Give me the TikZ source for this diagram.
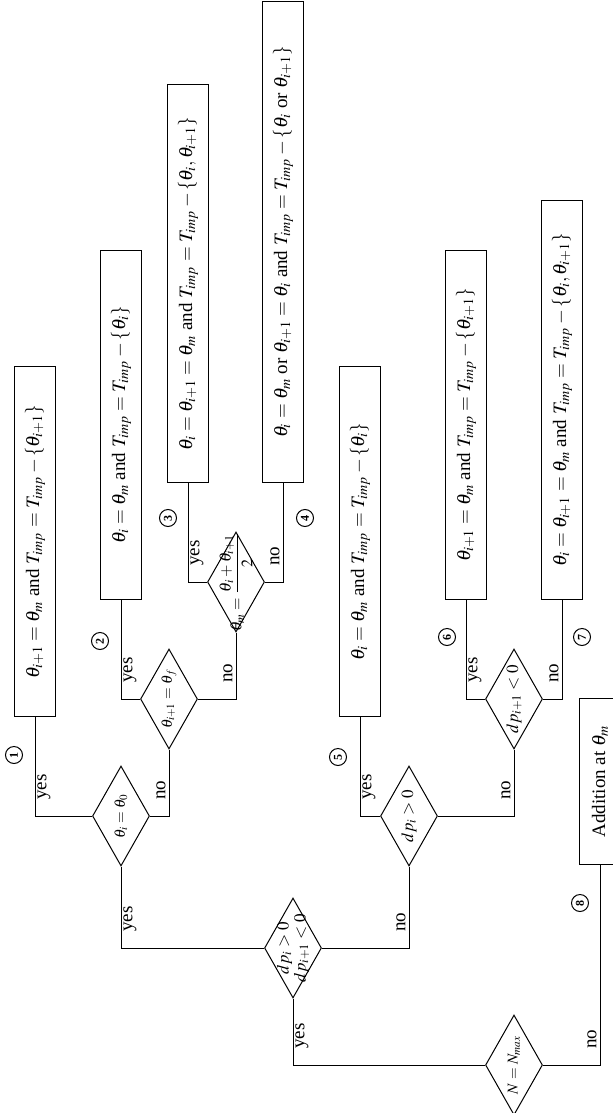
\documentclass[tikz,border=0pt]{standalone}
\usepackage{mathptmx}
\usepackage{fontspec}
\setmainfont{Liberation Serif}
\usetikzlibrary{positioning, shapes.geometric}

\begin{document}
\begin{tikzpicture}[
    x=0.5pt, y=-0.5pt,
    font=\fontsize{9.5}{11.5}\selectfont,
    result/.style={
        draw, line width=0.5pt, rotate=90, anchor=west,
        minimum height=20.5pt, inner sep=0pt,
    },
    query/.style={
        draw, diamond, line width=0.5pt, rotate=90,
        minimum width=50pt, minimum height=28.5pt, inner sep=0pt,
    },
    qtext/.style={rotate=90, align=center, inner sep=0pt, font=\fontsize{7.5}{8.5}\selectfont},
    qbig/.style={font=\fontsize{8.5}{8.5}\selectfont},
    yes/.style={rotate=90, anchor=north west, inner xsep=8pt, inner ysep=1pt},
    no/.style={rotate=90, anchor=south west, inner xsep=8pt, inner ysep=1.5pt},
    num/.style={
        draw, circle, line width=0.5pt, rotate=90, minimum size=8.5pt,
        inner sep=0pt, font=\fontsize{6}{6}\selectfont\bfseries,
    },
    link/.style={draw, line width=0.5pt},
]
\useasboundingbox (0,0) rectangle (613,1113);

% --- decisions ---
\node[query] (q0) at (514,1065) {};
\node[qtext] (q0t) at (q0) {$N=N_{max}$};
\node[query] (q1) at (293,948) {};
\node[qtext, qbig] (q1t) at (q1) {$dp_i>0$\\$dp_{i+1}<0$};
\node[query] (q2) at (121,816) {};
\node[qtext] (q2t) at (q2) {$\theta_i=\theta_0$};
\node[query] (q3) at (409,816) {};
\node[qtext, qbig] (q3t) at (q3) {$dp_i>0$};
\node[query] (q4) at (169,699) {};
\node[qtext] (q4t) at (q4) {$\theta_{i+1}=\theta_f$};
\node[query] (q5) at (236,582) {};
\node[qtext, font=\fontsize{8}{8}\selectfont] (q5t) at (q5)
    {$\displaystyle\theta_m=\frac{\theta_i+\theta_{i+1}}{2}$};
\node[query] (q6) at (514,699) {};
\node[qtext, qbig] (q6t) at (q6) {$dp_{i+1}<0$};

% --- results ---
\node[result, minimum width=175pt] (r1) at (35,717)
    {$\theta_{i+1}=\theta_m$ and $T_{imp}=T_{imp}-\{\theta_{i+1}\}$};
\node[result, minimum width=174.5pt] (r2) at (121,600)
    {$\theta_i=\theta_m$ and $T_{imp}=T_{imp}-\{\theta_i\}$};
\node[result, minimum width=199pt] (r3) at (188,483)
    {$\theta_i=\theta_{i+1}=\theta_m$ and $T_{imp}=T_{imp}-\{\theta_i,\theta_{i+1}\}$};
\node[result, minimum width=240.5pt] (r4) at (283,483)
    {$\theta_i=\theta_m$ or $\theta_{i+1}=\theta_i$ and $T_{imp}=T_{imp}-\{\theta_i$ or $\theta_{i+1}\}$};
\node[result, minimum width=175pt] (r5) at (360,717)
    {$\theta_i=\theta_m$ and $T_{imp}=T_{imp}-\{\theta_i\}$};
\node[result, minimum width=174.5pt] (r6) at (466,600)
    {$\theta_{i+1}=\theta_m$ and $T_{imp}=T_{imp}-\{\theta_{i+1}\}$};
\node[result, minimum width=199.5pt] (r7) at (562,600)
    {$\theta_i=\theta_{i+1}=\theta_m$ and $T_{imp}=T_{imp}-\{\theta_i,\theta_{i+1}\}$};
\node[result, minimum width=83pt] (r8) at (600,865) {Addition at $\theta_m$};

% --- links ---
\draw[link] (q0.north) -| node[yes] (y0) {yes} (q1.west);
\draw[link] (q0.south) -| node[no] (o0) {no} (r8.west);
\draw[link] (q1.north) -| node[yes] (y1) {yes} (q2.west);
\draw[link] (q1.south) -| node[no] (o1) {no} (q3.west);
\draw[link] (q2.north) -| node[yes] (y2) {yes} (r1.west);
\draw[link] (q2.south) -| node[no] (o2) {no} (q4.west);
\draw[link] (q4.north) -| node[yes] (y4) {yes} (r2.west);
\draw[link] (q4.south) -| node[no] (o4) {no} (q5.west);
\draw[link] (q5.north) -| node[yes] (y5) {yes} (r3.west);
\draw[link] (q5.south) -| node[no] (o5) {no} (r4.west);
\draw[link] (q3.north) -| node[yes] (y3) {yes} (r5.west);
\draw[link] (q3.south) -| node[no] (o3) {no} (q6.west);
\draw[link] (q6.north) -| node[yes] (y6) {yes} (r6.west);
\draw[link] (q6.south) -| node[no] (o6) {no} (r7.west);

% --- case numbers ---
\node[num] (n1) at (14,755) {1};
\node[num] (n2) at (100,641) {2};
\node[num] (n3) at (168,518) {3};
\node[num] (n4) at (305,518) {4};
\node[num] (n5) at (338,757) {5};
\node[num] (n6) at (447,637) {6};
\node[num] (n7) at (582,637) {7};
\node[num] (n8) at (580,903) {8};

\end{tikzpicture}
\end{document}
